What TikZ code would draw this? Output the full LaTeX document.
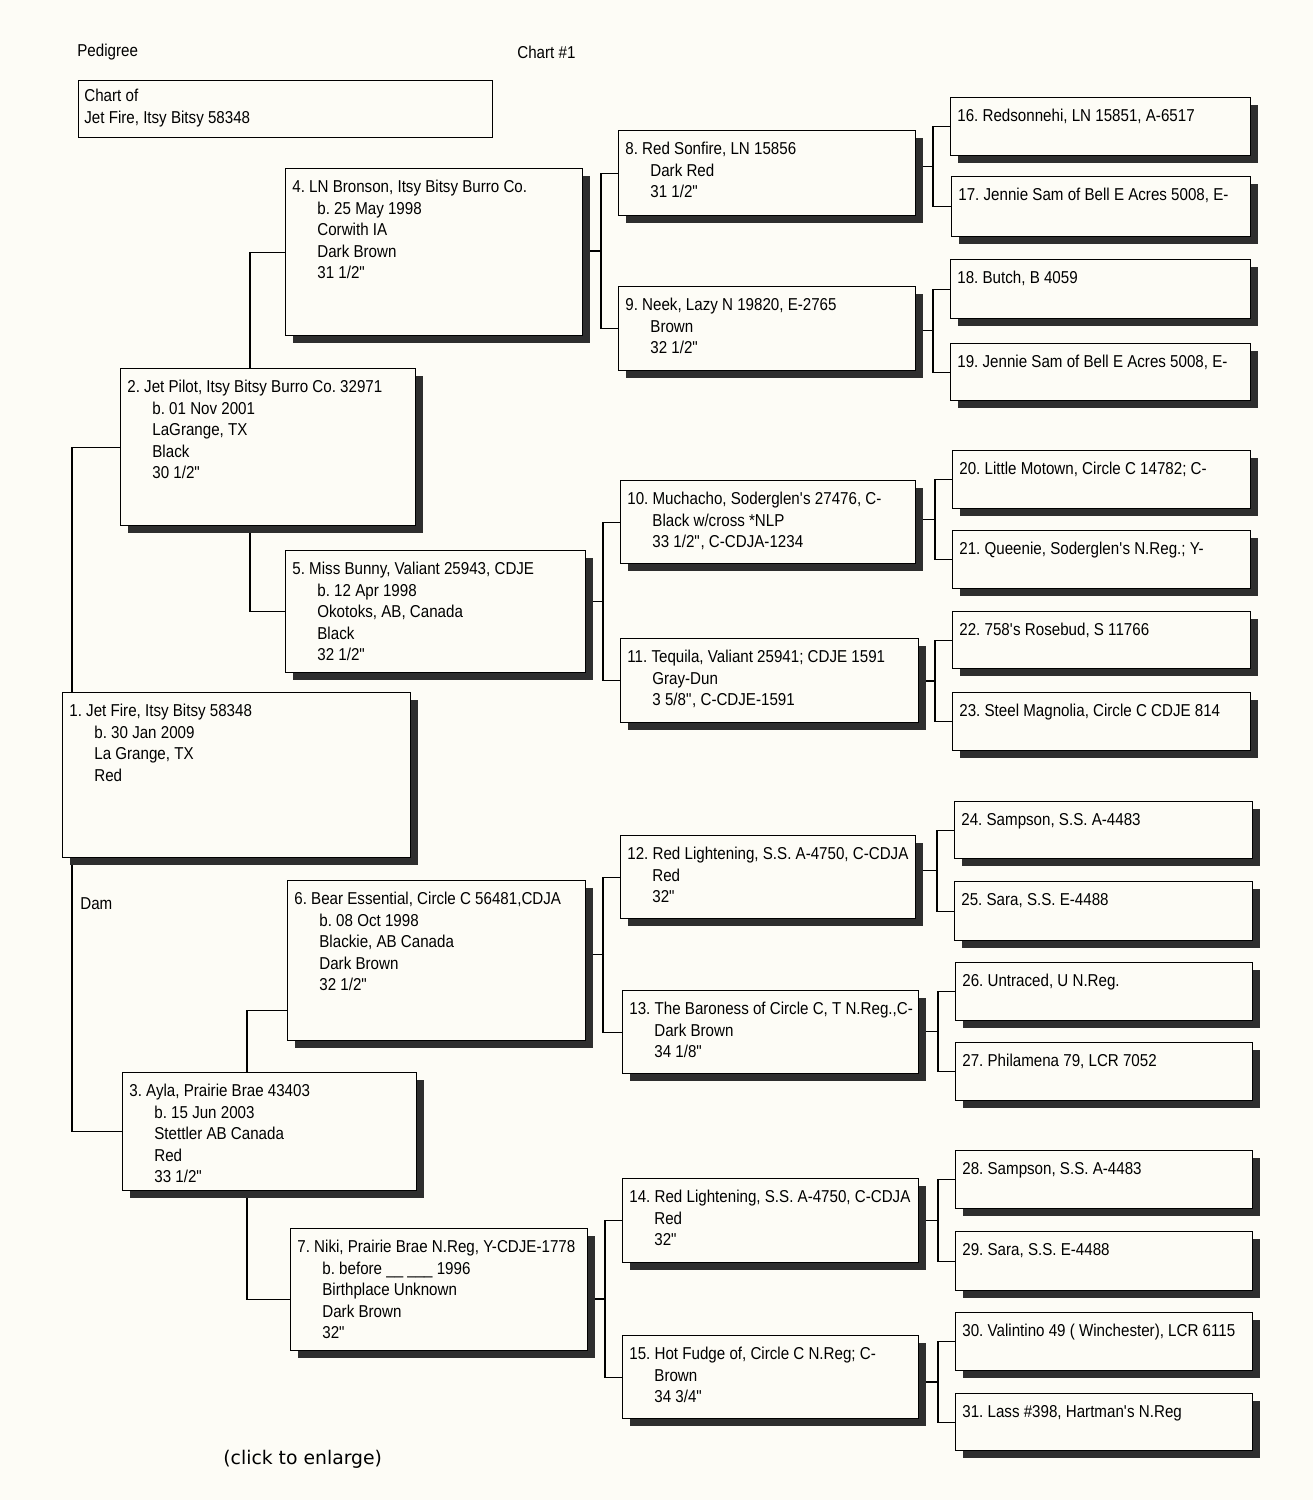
\documentclass[tikz,border=0pt]{standalone}
\usepackage{fontspec}
\setmainfont{Liberation Sans}[FakeStretch=0.88]
\newfontfamily\notefont{DejaVu Sans}
\usetikzlibrary{calc,shadows}
\frenchspacing

\definecolor{paper}{RGB}{253,252,246}
\definecolor{shade}{RGB}{46,46,46}

\pgfdeclarelayer{sheet}
\pgfdeclarelayer{lines}
\pgfsetlayers{sheet,lines,main}

\tikzset{
  pbox/.style={draw, fill=paper, line width=0.7pt, anchor=north west, inner sep=0pt,
    drop shadow={shadow xshift=3.5pt, shadow yshift=-3.5pt, fill=shade, opacity=1}},
  ptext/.style={anchor=north west, inner sep=0pt, align=left,
    font=\fontsize{8.6}{10.75}\selectfont},
  link/.style={line width=0.7pt},
}

% indent of the lines under a name
\newcommand{\ind}{\hspace*{12.5pt}}
\newcommand{\inch}{\textquotedbl}
\newcommand{\ap}{\textquotesingle}
% box: number, x1, y1, x2, y2 (pixels), text
\newcommand{\pedbox}[6]{%
  \node[pbox, minimum width={(#4-#2)*0.5pt}, minimum height={(#5-#3)*0.5pt}] (b#1) at (#2,#3) {};
  \node[ptext] (t#1) at ([xshift=3.5pt,yshift=-6pt]b#1.north west) {#6};
}

\begin{document}
\begin{tikzpicture}[x=0.5pt, y=-0.5pt]
  \useasboundingbox (0,0) rectangle (1313,1500);
  \begin{pgfonlayer}{sheet}
    \fill[paper] (0,0) rectangle (1313,1500);
  \end{pgfonlayer}

  % heading
  \node[ptext, anchor=west] (title) at (77,52) {Pedigree};
  \node[ptext, anchor=west] (chartno) at (517,52) {Chart \#1};
  \node[draw, line width=0.7pt, anchor=north west, inner sep=0pt,
        minimum width=207pt, minimum height=28.5pt] (chartof) at (78,80) {};
  \node[ptext] (chartoft) at ([xshift=3pt,yshift=-4.5pt]chartof.north west)
    {Chart of\\Jet Fire, Itsy Bitsy 58348};

  % generation 1 to 3
  \pedbox{1}{62}{692}{410}{857}{1. Jet Fire, Itsy Bitsy 58348\\\ind b. 30 Jan 2009\\\ind La Grange, TX\\\ind Red}
  \pedbox{2}{120}{368}{415}{525}{2. Jet Pilot, Itsy Bitsy Burro Co. 32971\\\ind b. 01 Nov 2001\\\ind LaGrange, TX\\\ind Black\\\ind 30 1/2\inch}
  \pedbox{3}{122}{1072}{416}{1190}{3. Ayla, Prairie Brae 43403\\\ind b. 15 Jun 2003\\\ind Stettler AB Canada\\\ind Red\\\ind 33 1/2\inch}
  \pedbox{4}{285}{168}{582}{335}{4. LN Bronson, Itsy Bitsy Burro Co.\\\ind b. 25 May 1998\\\ind Corwith IA\\\ind Dark Brown\\\ind 31 1/2\inch}
  \pedbox{5}{285}{550}{585}{672}{5. Miss Bunny, Valiant 25943, CDJE\\\ind b. 12 Apr 1998\\\ind Okotoks, AB, Canada\\\ind Black\\\ind 32 1/2\inch}
  \pedbox{6}{287}{880}{585}{1040}{6. Bear Essential, Circle C 56481,CDJA\\\ind b. 08 Oct 1998\\\ind Blackie, AB Canada\\\ind Dark Brown\\\ind 32 1/2\inch}
  \pedbox{7}{290}{1228}{587}{1350}{7. Niki, Prairie Brae N.Reg, Y-CDJE-1778\\\ind b. before \_\_ \_\_\_ 1996\\\ind Birthplace Unknown\\\ind Dark Brown\\\ind 32\inch}

  % generation 4
  \pedbox{8}{618}{130}{915}{215}{8. Red Sonfire, LN 15856\\\ind Dark Red\\\ind 31 1/2\inch}
  \pedbox{9}{618}{286}{915}{370}{9. Neek, Lazy N 19820, E-2765\\\ind Brown\\\ind 32 1/2\inch}
  \pedbox{10}{620}{480}{915}{563}{10. Muchacho, Soderglen\ap s 27476, C-\\\ind Black w/cross *NLP\\\ind 33 1/2\inch, C-CDJA-1234}
  \pedbox{11}{620}{638}{918}{722}{11. Tequila, Valiant 25941; CDJE 1591\\\ind Gray-Dun\\\ind 3 5/8\inch, C-CDJE-1591}
  \pedbox{12}{620}{835}{915}{918}{12. Red Lightening, S.S. A-4750, C-CDJA\\\ind Red\\\ind 32\inch}
  \pedbox{13}{622}{990}{918}{1073}{13. The Baroness of Circle C, T N.Reg.,C-\\\ind Dark Brown\\\ind 34 1/8\inch}
  \pedbox{14}{622}{1178}{918}{1262}{14. Red Lightening, S.S. A-4750, C-CDJA\\\ind Red\\\ind 32\inch}
  \pedbox{15}{622}{1335}{918}{1418}{15. Hot Fudge of, Circle C N.Reg; C-\\\ind Brown\\\ind 34 3/4\inch}

  % generation 5
  \pedbox{16}{950}{97}{1250}{155}{16. Redsonnehi, LN 15851, A-6517}
  \pedbox{17}{951}{176}{1250}{236}{17. Jennie Sam of Bell E Acres 5008, E-}
  \pedbox{18}{950}{259}{1250}{318}{18. Butch, B 4059}
  \pedbox{19}{950}{343}{1250}{400}{19. Jennie Sam of Bell E Acres 5008, E-}
  \pedbox{20}{952}{450}{1250}{508}{20. Little Motown, Circle C 14782; C-}
  \pedbox{21}{952}{530}{1250}{588}{21. Queenie, Soderglen\ap s N.Reg.; Y-}
  \pedbox{22}{952}{611}{1250}{668}{22. 758\ap s Rosebud, S 11766}
  \pedbox{23}{952}{692}{1250}{750}{23. Steel Magnolia, Circle C CDJE 814}
  \pedbox{24}{954}{801}{1252}{858}{24. Sampson, S.S. A-4483}
  \pedbox{25}{954}{881}{1252}{940}{25. Sara, S.S. E-4488}
  \pedbox{26}{955}{962}{1252}{1020}{26. Untraced, U N.Reg.}
  \pedbox{27}{955}{1042}{1252}{1100}{27. Philamena 79, LCR 7052}
  \pedbox{28}{955}{1150}{1252}{1208}{28. Sampson, S.S. A-4483}
  \pedbox{29}{955}{1231}{1252}{1290}{29. Sara, S.S. E-4488}
  \pedbox{30}{955}{1312}{1252}{1370}{30. Valintino 49 ( Winchester), LCR 6115}
  \pedbox{31}{955}{1393}{1252}{1450}{31. Lass \#398, Hartman\ap s N.Reg}

  \node[ptext, anchor=west] (dam) at (80,904) {Dam};
  \node[anchor=west, inner sep=0pt, font=\notefont\fontsize{9.4}{11}\selectfont] (enlarge) at (223,1459) {(click to enlarge)};

  % connectors, behind the boxes
  \begin{pgfonlayer}{lines}
    \draw[link] (b2.west) -- ++(-48,0) |- (b3.west);
    \draw[link] (b4.west) -- ++(-35,0) |- (b5.west);
    \draw[link] ([yshift=-25pt]b6.west) -- ++(-40,0) |- ([yshift=-5pt]b7.west);
    \foreach \p/\a/\b in {4/8/9, 5/10/11, 6/12/13, 7/14/15,
                          8/16/17, 9/18/19, 10/20/21, 11/22/23,
                          12/24/25, 13/26/27, 14/28/29, 15/30/31} {
      \draw[link] (b\a.west) -- ++(-17,0) |- (b\b.west);
      \coordinate (j\p) at ($(b\a.west)!0.5!(b\b.west)+(-17,0)$);
      \draw[link] (j\p) -- (b\p.east |- j\p);
    }
  \end{pgfonlayer}
\end{tikzpicture}
\end{document}
